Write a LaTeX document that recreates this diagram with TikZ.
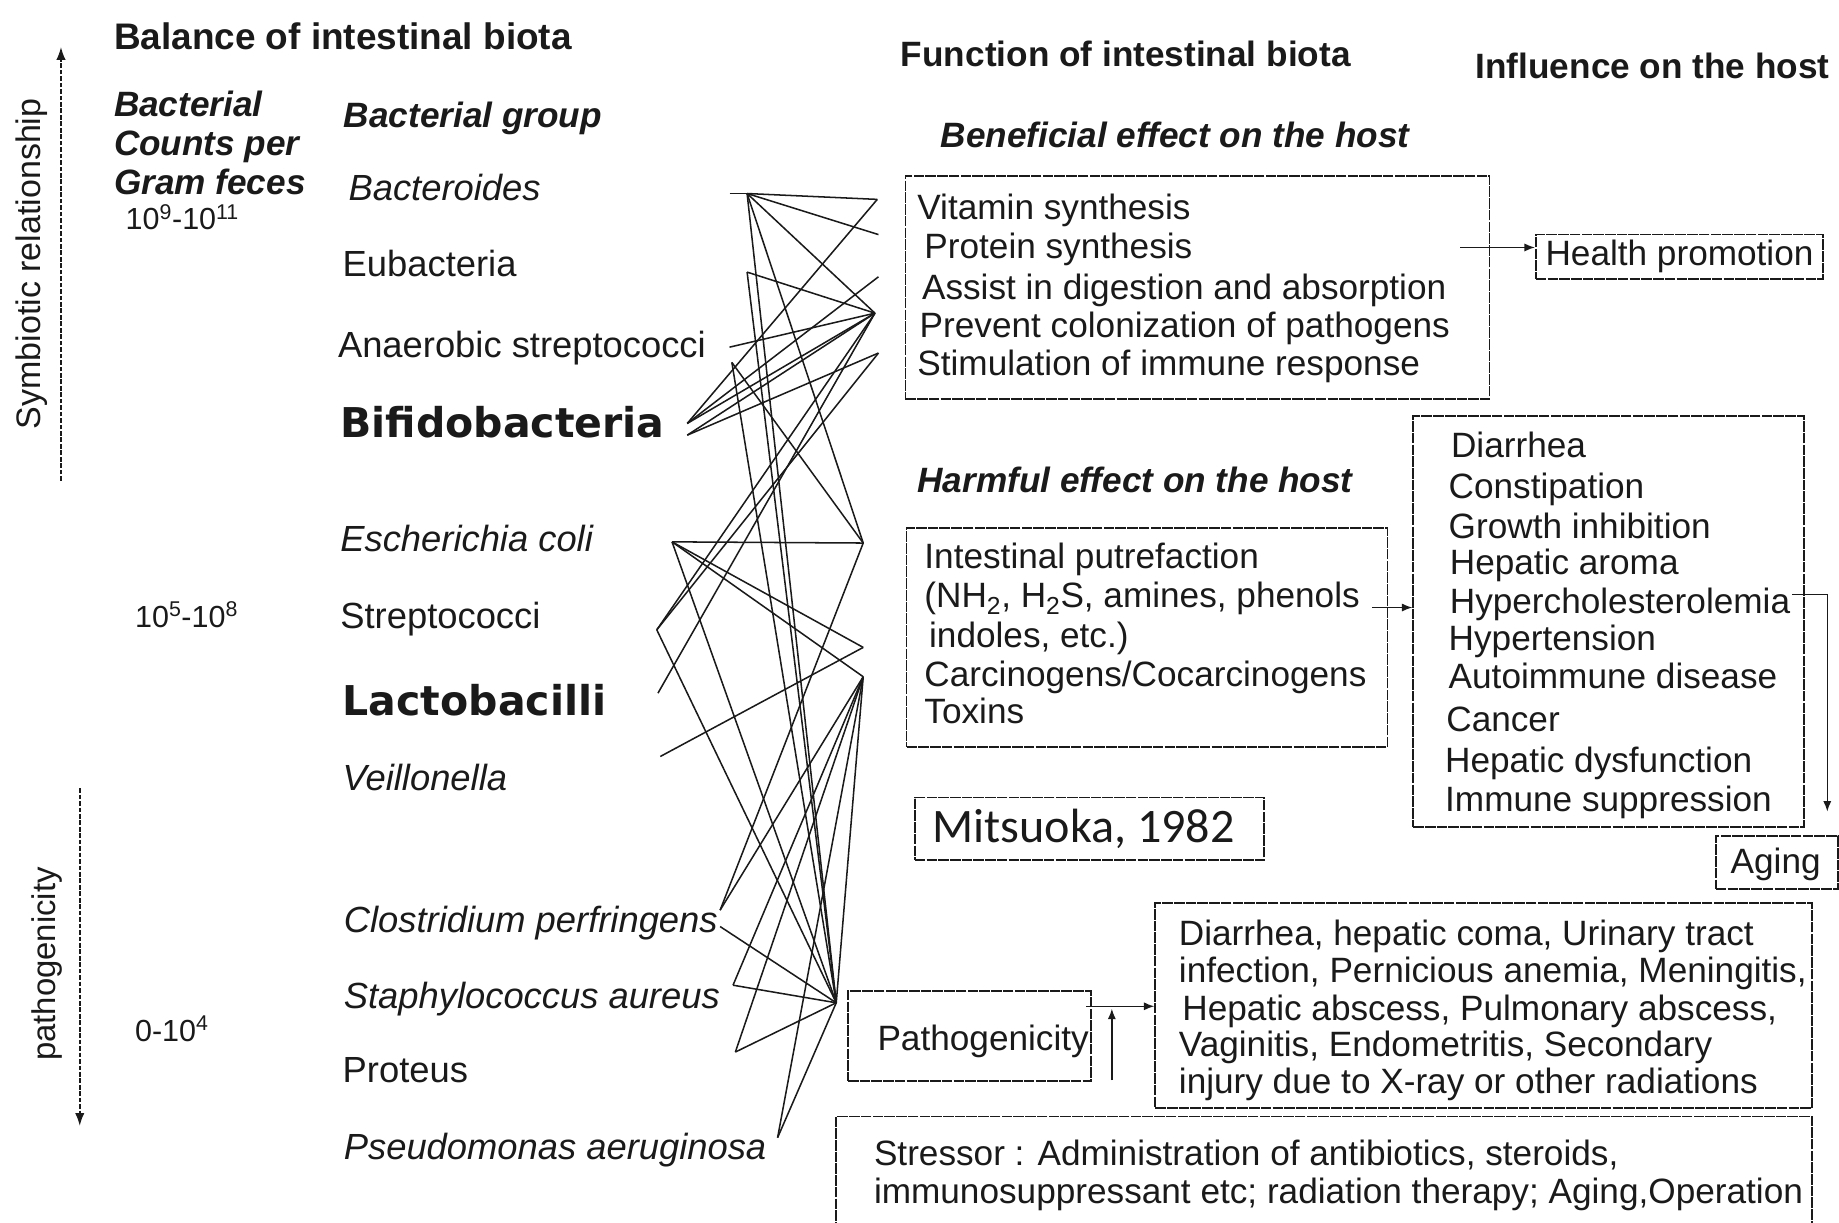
\documentclass[tikz,border=0pt]{standalone}
\usepackage{fontspec}
\setmainfont{Liberation Sans}
\newfontfamily\dvfont{DejaVu Sans}
\newfontfamily\mitfont{Carlito}
\usetikzlibrary{arrows.meta}
\definecolor{ink}{HTML}{1A1A1A}
\begin{document}
\begin{tikzpicture}[x=1pt,y=-1pt,
  txt/.style={anchor=base west,inner sep=0pt,text=ink,font=\fontsize{30}{33}\selectfont},
  bac/.style={txt,font=\fontsize{31}{33}\selectfont},
  ibac/.style={txt,font=\fontsize{31}{33}\selectfont\itshape},
  bbac/.style={txt,font=\fontsize{35}{38}\selectfont\dvfont\bfseries},
  head/.style={txt,font=\fontsize{30}{33}\selectfont\bfseries},
  ihead/.style={txt,font=\fontsize{30}{33}\selectfont\bfseries\itshape},
  cnt/.style={txt,font=\fontsize{26}{30}\selectfont},
  box/.style={draw=ink,line width=1.5pt,dash pattern=on 9pt off 1pt,rectangle,inner sep=0pt},
  arr/.style={draw=ink,line width=1.3pt,-{Latex[length=9pt,width=7pt]}},
  darr/.style={draw=ink,line width=1.5pt,dash pattern=on 4pt off 1.5pt,-{Latex[length=11pt,width=8pt]}},
  web/.style={draw=ink,line width=1.3pt}]
\useasboundingbox (0,0) rectangle (1568,1042);
\fill[white] (0,0) rectangle (1568,1042);

% ---------- left axis arrows ----------
\coordinate (symb0) at (52,410); \coordinate (symb1) at (52,40);
\draw[darr] (symb0) -- (symb1);
\node[rotate=90,inner sep=0pt,text=ink,font=\fontsize{29}{30}\selectfont] (symlab) at (27,225) {Symbiotic relationship};
\coordinate (path0) at (68,672); \coordinate (path1) at (68,960);
\draw[darr] (path0) -- (path1);
\node[rotate=90,inner sep=0pt,text=ink,font=\fontsize{28}{30}\selectfont] (pathlab) at (40,822) {pathogenicity};

% ---------- left texts ----------
\node[head,font=\fontsize{31.5}{33}\selectfont\bfseries] (title) at (97,42) {Balance of intestinal biota};
\node[ihead] (bc1) at (97,99) {Bacterial};
\node[ihead] (bc2) at (97,133) {Counts per};
\node[ihead] (bc3) at (97,166) {Gram feces};
\node[cnt] (c1) at (107,196) {10\textsuperscript{9}-10\textsuperscript{11}};
\node[ihead] (bg) at (293,109) {Bacterial group};
\node[ibac] (n1) at (297,171) {Bacteroides};
\node[bac] (n2) at (292,236) {Eubacteria};
\node[bac] (n3) at (288,305) {Anaerobic streptococci};
\node[bbac] (n4) at (290,373) {Bifidobacteria};
\node[ibac] (n5) at (290,470) {Escherichia coli};
\node[cnt] (c2) at (115,535) {10\textsuperscript{5}-10\textsuperscript{8}};
\node[bac] (n6) at (290,536) {Streptococci};
\node[bbac] (n7) at (292,610) {Lactobacilli};
\node[ibac] (n8) at (292,674) {Veillonella};
\node[ibac] (n9) at (293,795) {Clostridium perfringens};
\node[ibac] (n10) at (293,860) {Staphylococcus aureus};
\node[cnt] (c3) at (115,888) {0-10\textsuperscript{4}};
\node[bac] (n11) at (292,923) {Proteus};
\node[ibac] (n12) at (293,989) {Pseudomonas aeruginosa};

% ---------- web of connections ----------
\coordinate (stub) at (622,165);
\coordinate (LA) at (637,165);
\coordinate (LB) at (637,232);
\coordinate (LC) at (622,296);
\coordinate (LD) at (624,309);
\coordinate (LE1) at (586,361);
\coordinate (LE2) at (586,371);
\coordinate (LF) at (573,462);
\coordinate (LG) at (560,537);
\coordinate (LH) at (561,591);
\coordinate (LI) at (563,645);
\coordinate (LJ) at (614,776);
\coordinate (LJ2) at (614,790);
\coordinate (LK) at (625,840);
\coordinate (LL) at (627,897);
\coordinate (LM) at (663,970);
\coordinate (RA) at (748,170);
\coordinate (RB) at (749,200);
\coordinate (RC) at (749,236);
\coordinate (RD) at (746,267);
\coordinate (RE) at (749,301);
\coordinate (RF) at (736,463);
\coordinate (RG) at (736,552);
\coordinate (RH) at (736,577);
\coordinate (RI) at (713,855);

\draw[web] (stub) -- (LA);
\draw[web] (LA) -- (RA);
\draw[web] (LA) -- (RB);
\draw[web] (LA) -- (RD);
\draw[web] (LA) -- (RF);
\draw[web] (LA) -- (RI);
\draw[web] (RA) -- (LE1);
\draw[web] (LB) -- (RD);
\draw[web] (LB) -- (RI);
\draw[web] (LC) -- (RD);
\draw[web] (LD) -- (RF);
\draw[web] (LD) -- (RI);
\draw[web] (RC) -- (LE1);
\draw[web] (RD) -- (LE1);
\draw[web] (RD) -- (LE2);
\draw[web] (RE) -- (LE2);
\draw[web] (RE) -- (LG);
\draw[web] (RD) -- (LG);
\draw[web] (RD) -- (LH);
\draw[web] (LF) -- (RF);
\draw[web] (LF) -- (RG);
\draw[web] (LF) -- (RH);
\draw[web] (LF) -- (RI);
\draw[web] (LG) -- (RI);
\draw[web] (LI) -- (RG);
\draw[web] (RF) -- (LJ);
\draw[web] (RH) -- (LJ);
\draw[web] (LJ2) -- (RI);
\draw[web] (RH) -- (LK);
\draw[web] (LK) -- (RI);
\draw[web] (RH) -- (LL);
\draw[web] (LL) -- (RI);
\draw[web] (RH) -- (LM);
\draw[web] (LM) -- (RI);
\draw[web] (RH) -- (RI);

% ---------- right side ----------
\node[head] (fh) at (768,57) {Function of intestinal biota};
\node[head] (ih) at (1258,67) {Influence on the host};
\node[ihead] (benh) at (802,126) {Beneficial effect on the host};

\node[box,minimum width=498pt,minimum height=190pt] (bx1) at (1021,245) {};
\node[txt] (b1a) at (782,187) {Vitamin synthesis};
\node[txt] (b1b) at (788,220) {Protein synthesis};
\node[txt] (b1c) at (786,255) {Assist in digestion and absorption};
\node[txt] (b1d) at (784,288) {Prevent colonization of pathogens};
\node[txt] (b1e) at (782,320) {Stimulation of immune response};

\node[box,minimum width=245pt,minimum height=38pt,text=ink,font=\fontsize{30}{33}\selectfont] (hp) at (1432,219) {Health promotion};
\coordinate (hps) at (1245,211);
\draw[arr] (hps) -- (hps -| hp.west);

\node[ihead] (harmh) at (782,420) {Harmful effect on the host};
\node[box,minimum width=410pt,minimum height=187pt] (bx2) at (978,543.5) {};
\node[txt] (b2a) at (788,485) {Intestinal putrefaction};
\node[txt] (b2b) at (788,518) {(NH\textsubscript{2}, H\textsubscript{2}S, amines, phenols};
\node[txt] (b2c) at (792,552) {indoles, etc.)};
\node[txt] (b2d) at (788,585) {Carcinogens/Cocarcinogens};
\node[txt] (b2e) at (788,617) {Toxins};

\node[box,minimum width=333pt,minimum height=350pt] (bx3) at (1371.5,530) {};
\node[txt] (b3a) at (1237,390) {Diarrhea};
\node[txt] (b3b) at (1235,425) {Constipation};
\node[txt] (b3c) at (1235,459) {Growth inhibition};
\node[txt] (b3d) at (1236,490) {Hepatic aroma};
\node[txt] (b3e) at (1236,523) {Hypercholesterolemia};
\node[txt] (b3f) at (1235,555) {Hypertension};
\node[txt] (b3g) at (1235,587) {Autoimmune disease};
\node[txt] (b3h) at (1233,624) {Cancer};
\node[txt] (b3i) at (1232,659) {Hepatic dysfunction};
\node[txt] (b3j) at (1232,692) {Immune suppression};

\coordinate (hs) at (1170,518);
\draw[arr] (hs) -- (hs -| bx3.west);

\node[box,minimum width=104pt,minimum height=45pt] (ag) at (1515,735.5) {};
\node[txt,anchor=center] (agt) at (1514,737) {Aging};
\coordinate (hy) at (1528,507);
\coordinate (hyc) at (1558,507);
\coordinate (agtip) at (1558,692);
\draw[arr] (hy) -- (hyc) -- (agtip);

\node[box,minimum width=298pt,minimum height=53pt] (mit) at (929,706.5) {};
\node[inner sep=0pt,text=ink,font=\fontsize{41}{44}\selectfont\mitfont] (mitt) at (924,707) {Mitsuoka, 1982};

\node[box,minimum width=560pt,minimum height=175pt] (bx4) at (1265,857.5) {};
\node[txt] (b4a) at (1005,806) {Diarrhea, hepatic coma, Urinary tract};
\node[txt] (b4b) at (1005,838) {infection, Pernicious anemia, Meningitis,};
\node[txt] (b4c) at (1008,870) {Hepatic abscess, Pulmonary abscess,};
\node[txt] (b4d) at (1005,901) {Vaginitis, Endometritis, Secondary};
\node[txt] (b4e) at (1005,932) {injury due to X-ray or other radiations};

\node[box,minimum width=207pt,minimum height=77pt] (pa) at (826.5,883.5) {};
\node[txt] (pat) at (748,896) {Pathogenicity};
\coordinate (pa1) at (926,858);
\draw[arr] (pa1) -- (pa1 -| bx4.west);
\coordinate (st0) at (948,921);
\coordinate (st1) at (948,860);
\draw[arr] (st0) -- (st1);

\node[box,minimum width=832pt,minimum height=96pt] (bx5) at (1129,1000) {};
\node[txt] (b5a) at (745,994) {Stressor : Administration of antibiotics, steroids,};
\node[txt] (b5b) at (745,1026) {immunosuppressant etc; radiation therapy; Aging,Operation};
\end{tikzpicture}
\end{document}
